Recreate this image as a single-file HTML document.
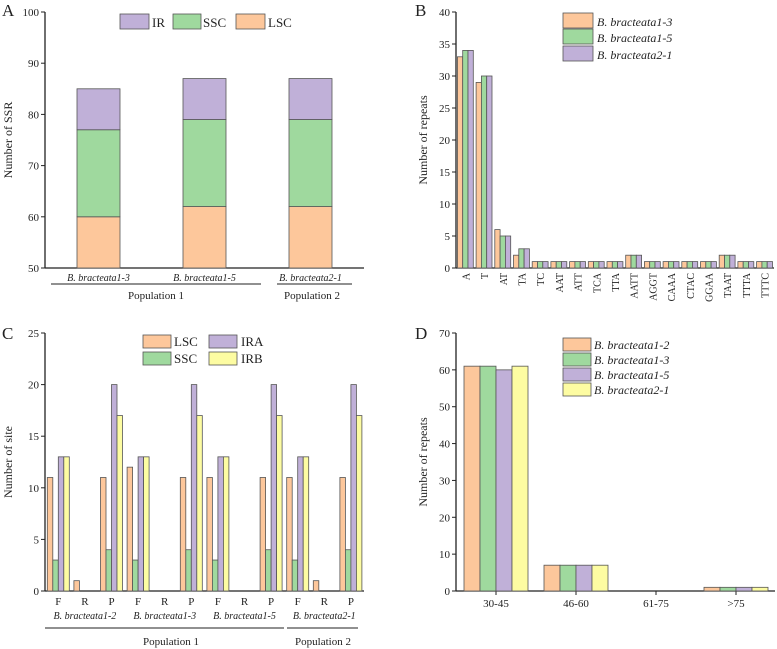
<!DOCTYPE html>
<html><head><meta charset="utf-8">
<style>
body{margin:0;background:#fff;}
svg{display:block;font-family:"Liberation Serif",serif;}
text{fill:#222;}
</style></head>
<body>
<svg id="fig" width="777" height="649" xmlns="http://www.w3.org/2000/svg"></svg>
<script>
// ---- Panel A data ----
const aCats=["B. bracteata1-3","B. bracteata1-5","B. bracteata2-1"];
const aLSC=[60,62,62];
const aSSC=[77,79,79];
const aIR=[85,87,87];
// ---- Panel B data ----
const bCats=["A","T","AT","TA","TC","AAT","ATT","TCA","TTA","AATT","AGGT","CAAA","CTAC","GGAA","TAAT","TTTA","TTTC"];
const b13=[33,29,6,2,1,1,1,1,1,2,1,1,1,1,2,1,1];
const b15=[34,30,5,3,1,1,1,1,1,2,1,1,1,1,2,1,1];
const b21=[34,30,5,3,1,1,1,1,1,2,1,1,1,1,2,1,1];
const bTicks=[0,5,10,15,20,25,30,35,40];
// ---- Panel C data ----
const cCats=["F","R","P","F","R","P","F","R","P","F","R","P"];
const cSpecies=["B. bracteata1-2","B. bracteata1-3","B. bracteata1-5","B. bracteata2-1"];
const cLSC=[11,1,11,12,0,11,11,0,11,11,1,11];
const cSSC=[3,0,4,3,0,4,3,0,4,3,0,4];
const cIRA=[13,0,20,13,0,20,13,0,20,13,0,20];
const cIRB=[13,0,17,13,0,17,13,0,17,13,0,17];
const cTicks=[0,5,10,15,20,25];
// ---- Panel D data ----
const dCats=["30-45","46-60","61-75",">75"];
const d12=[61,7,0,1];
const d13=[61,7,0,1];
const d15=[60,7,0,1];
const d21=[61,7,0,1];
const dTicks=[0,10,20,30,40,50,60,70];
const aTicks=[50,60,70,80,90,100];

const OR="#fdc79b",GR="#9fd99e",PU="#c0b0d8",YE="#fdfca2",ST="#555";
const svg=document.getElementById('fig');
const NS="http://www.w3.org/2000/svg";
function el(tag,attrs,parent){const e=document.createElementNS(NS,tag);for(const k in attrs)e.setAttribute(k,attrs[k]);(parent||svg).appendChild(e);return e;}
function txt(s,attrs,parent){const t=el('text',attrs,parent);t.textContent=s;return t;}

function axes(g,x0,x1,yTop,yBot,ticks,yScale,title,titleX,label,labelX,labelY){
  const ax=el('line',{x1:x0,y1:yTop,x2:x0,y2:yBot,stroke:'#222','stroke-width':1.3},g);
  
  const bx=el('line',{x1:x0,y1:yBot,x2:x1,y2:yBot,stroke:'#222','stroke-width':1.3},g);
  
  ticks.forEach(v=>{const y=yScale(v);
    el('line',{x1:x0-4,y1:y,x2:x0,y2:y,stroke:'#222'},g);
    const t=txt(String(v),{x:x0-6,y:y+4,'text-anchor':'end','font-size':11},g);
    });
  const cy=(yTop+yBot)/2;
  const tt=txt(title,{x:titleX,y:cy,'text-anchor':'middle','font-size':12,transform:`rotate(-90 ${titleX} ${cy})`},g);
  
  const pl=txt(label,{x:labelX,y:labelY,'font-size':17},g);
  
}
function bar(g,x,w,yv,y0,fill,name){
  const r=el('rect',{x:x,y:Math.min(yv,y0),width:w,height:Math.abs(y0-yv),fill:fill,stroke:ST,'stroke-width':0.8},g);
  return r;
}
function legendEntry(g,x,y,w,h,fill,label,tx,italic){
  const r=el('rect',{x:x,y:y,width:w,height:h,fill:fill,stroke:ST,'stroke-width':0.8},g);
  
  const t=txt(label,{x:tx,y:y+h-2,'font-size':italic?12:13,'font-style':italic?'italic':'normal'},g);
  
}

// ===== Panel A =====
(function(){
  const g=el('g',{});
  const x0=45,x1=364,yT=12,yB=268;
  const ys=v=>yB-(v-50)/50*(yB-yT);
  axes(g,x0,x1,yT,yB,aTicks,ys,"Number of SSR",12,"A",2,16);
  const step=106,w=43;
  aCats.forEach((c,i)=>{const cx=98.5+i*step;
    bar(g,cx-w/2,w,ys(aLSC[i]),yB,OR,'bar-lsc');
    bar(g,cx-w/2,w,ys(aSSC[i]),ys(aLSC[i]),GR,'bar-ssc');
    bar(g,cx-w/2,w,ys(aIR[i]),ys(aSSC[i]),PU,'bar-ir');
    const t=txt(c,{x:cx,y:281,'text-anchor':'middle','font-size':10,'font-style':'italic'},g);
    });
  el('line',{x1:51,y1:284,x2:261,y2:284,stroke:'#222'},g);
  el('line',{x1:277,y1:284,x2:352,y2:284,stroke:'#222'},g);
  let t=txt("Population 1",{x:156,y:299,'text-anchor':'middle','font-size':11},g);
  t=txt("Population 2",{x:312,y:299,'text-anchor':'middle','font-size':11},g);
  legendEntry(g,120,14,29,15,PU,"IR",152,false);
  legendEntry(g,173,14,28,15,GR,"SSC",203,false);
  legendEntry(g,236,14,29,15,OR,"LSC",268,false);
})();

// ===== Panel B =====
(function(){
  const g=el('g',{});
  const x0=456,x1=774,yT=12,yB=268;
  const ys=v=>yB-v/40*(yB-yT);
  axes(g,x0,x1,yT,yB,bTicks,ys,"Number of repeats",427,"B",415,16);
  const step=18.7,w=5.3;
  bCats.forEach((c,i)=>{const cx=x0+(i+0.5)*step;
    bar(g,cx-1.5*w,w,ys(b13[i]),yB,OR,'bar-b13');
    bar(g,cx-0.5*w,w,ys(b15[i]),yB,GR,'bar-b15');
    bar(g,cx+0.5*w,w,ys(b21[i]),yB,PU,'bar-b21');
    const t=txt(c,{x:cx+4,y:273,'text-anchor':'end','font-size':10,transform:`rotate(-90 ${cx+4} 273)`},g);
    });
  legendEntry(g,563,13,30,15,OR,"B. bracteata1-3",597,true);
  legendEntry(g,563,29,30,15,GR,"B. bracteata1-5",597,true);
  legendEntry(g,563,46,30,15,PU,"B. bracteata2-1",597,true);
})();

// ===== Panel C =====
(function(){
  const g=el('g',{});
  const x0=45,x1=364,yT=333,yB=591;
  const ys=v=>yB-v/25*(yB-yT);
  axes(g,x0,x1,yT,yB,cTicks,ys,"Number of site",12,"C",2,339);
  const step=26.6,w=5.5;
  cCats.forEach((c,i)=>{const cx=x0+(i+0.5)*step;
    if(cLSC[i]>0)bar(g,cx-2*w,w,ys(cLSC[i]),yB,OR,'bar-lsc');
    if(cSSC[i]>0)bar(g,cx-w,w,ys(cSSC[i]),yB,GR,'bar-ssc');
    if(cIRA[i]>0)bar(g,cx,w,ys(cIRA[i]),yB,PU,'bar-ira');
    if(cIRB[i]>0)bar(g,cx+w,w,ys(cIRB[i]),yB,YE,'bar-irb');
    const t=txt(c,{x:cx,y:605,'text-anchor':'middle','font-size':11},g);
    });
  cSpecies.forEach((s,i)=>{const cx=x0+(i*3+1.5)*step;
    const t=txt(s,{x:cx,y:619,'text-anchor':'middle','font-size':10,'font-style':'italic'},g);
    });
  el('line',{x1:45,y1:628,x2:284,y2:628,stroke:'#222'},g);
  el('line',{x1:287,y1:628,x2:358,y2:628,stroke:'#222'},g);
  let t=txt("Population 1",{x:171,y:645,'text-anchor':'middle','font-size':11},g);
  t=txt("Population 2",{x:323,y:645,'text-anchor':'middle','font-size':11},g);
  legendEntry(g,143,335,28,13,OR,"LSC",174,false);
  legendEntry(g,143,352,28,13,GR,"SSC",174,false);
  legendEntry(g,209,335,28,13,PU,"IRA",241,false);
  legendEntry(g,209,352,28,13,YE,"IRB",241,false);
})();

// ===== Panel D =====
(function(){
  const g=el('g',{});
  const x0=456,x1=775,yT=333,yB=591;
  const ys=v=>yB-v/70*(yB-yT);
  axes(g,x0,x1,yT,yB,dTicks,ys,"Number of repeats",427,"D",415,339);
  const step=80,w=16;
  dCats.forEach((c,i)=>{const cx=x0+(i+0.5)*step;
    el('line',{x1:cx,y1:yB,x2:cx,y2:yB+4,stroke:'#222'},g);
    if(d12[i]>0)bar(g,cx-2*w,w,ys(d12[i]),yB,OR,'bar-d12');
    if(d13[i]>0)bar(g,cx-w,w,ys(d13[i]),yB,GR,'bar-d13');
    if(d15[i]>0)bar(g,cx,w,ys(d15[i]),yB,PU,'bar-d15');
    if(d21[i]>0)bar(g,cx+w,w,ys(d21[i]),yB,YE,'bar-d21');
    const t=txt(c,{x:cx,y:607,'text-anchor':'middle','font-size':11},g);
    });
  legendEntry(g,563,338,28,13,OR,"B. bracteata1-2",594,true);
  legendEntry(g,563,353,28,13,GR,"B. bracteata1-3",594,true);
  legendEntry(g,563,368,28,13,PU,"B. bracteata1-5",594,true);
  legendEntry(g,563,383,28,13,YE,"B. bracteata2-1",594,true);
})();
</script>
</body></html>
